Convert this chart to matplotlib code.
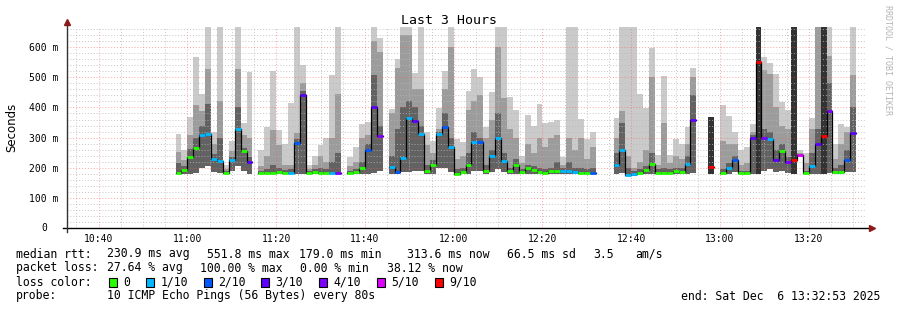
import numpy as np
import matplotlib.pyplot as plt
from matplotlib.patches import Rectangle

# smokeping "Last 3 Hours" - one value per 80 s step, None = no answer at all
median = [182, 193, 236, 264, 308, 312, 230, 222, 183, 226,
          328, 255, 218, None, 181, 181, 183, 185, 183, 183,
          282, 441, 183, 185, 183, 183, 183, 183, None, 183,
          187, 199, 258, 402, 305, None, 202, 186, 231, 364,
          356, 311, 188, 210, 311, 336, 270, 180, 185, 208,
          285, 287, 190, 240, 297, 222, 190, 208, 185, 200,
          193, 185, 183, 188, 190, 190, 190, 185, 182, 182,
          182, None, None, None, 209, 260, 177, 179, 182, 194,
          212, 183, 183, 183, 188, 185, 214, 357, None, None,
          203, None, 181, 198, 226, 181, 181, 297, 551, 299,
          296, 227, 256, 218, 227, 242, 181, 207, 279, 305,
          387, 186, 186, 227, 314]

loss = [0, 0, 0, 0, 1, 1, 1, 1, 0, 1,
        1, 0, 3, None, 0, 0, 0, 0, 0, 1,
        2, 3, 0, 0, 0, 0, 1, 4, None, 0,
        0, 0, 2, 3, 4, None, 1, 2, 1, 1,
        3, 1, 0, 0, 1, 2, 1, 0, 0, 0,
        1, 2, 0, 1, 1, 1, 0, 0, 0, 0,
        0, 0, 0, 0, 0, 1, 1, 1, 0, 0,
        2, None, None, None, 1, 1, 1, 1, 0, 0,
        0, 0, 0, 0, 0, 0, 1, 3, None, None,
        9, None, 0, 1, 2, 0, 0, 3, 9, 4,
        1, 3, 0, 4, 9, 5, 0, 1, 3, 9,
        4, 0, 0, 2, 3]

smoke_top = [311, 258, 368, 568, 445, 666, 318, 666, 210, 290,
             666, 350, 518, None, 258, 336, 521, 325, 280, 415,
             666, 540, 210, 240, 275, 300, 507, 666, None, 235,
             270, 345, 353, 666, 630, None, 395, 560, 666, 666,
             513, 666, 318, 290, 397, 520, 666, 295, 286, 454,
             527, 501, 336, 452, 666, 666, 435, 391, 240, 376,
             339, 410, 347, 353, 358, 235, 666, 666, 361, 295,
             320, None, None, None, 364, 666, 666, 666, 444, 397,
             597, 242, 505, 242, 295, 278, 336, 531, None, None,
             369, None, 408, 372, 319, 258, 270, 345, 666, 567,
             548, 511, 419, 391, 666, 258, 250, 364, 666, 666,
             666, 280, 345, 336, 666]

smoke_mid = [252, 225, 308, 408, 388, 528, 280, 420, 195, 255,
             528, 308, 300, None, 205, 240, 325, 275, 210, 210,
             315, 480, 195, 210, 240, 220, 300, 445, None, 205,
             220, 300, 308, 620, 585, None, 380, 530, 640, 640,
             460, 460, 275, 250, 330, 460, 600, 230, 240, 390,
             420, 440, 300, 360, 600, 430, 330, 300, 215, 280,
             250, 300, 270, 300, 310, 210, 300, 260, 300, 230,
             270, None, None, None, 300, 388, 240, 200, 220, 260,
             500, 210, 350, 215, 240, 230, 280, 500, None, None,
             369, None, 290, 280, 280, 210, 215, 320, 666, 525,
             510, 400, 340, 330, 666, 250, 215, 330, 666, 666,
             570, 230, 280, 320, 507]

smoke_dark = [215, 205, 262, 300, 340, 413, 245, 300, 190, 235,
              403, 265, 235, None, 190, 195, 210, 200, 192, 195,
              295, 455, 188, 195, 200, 195, 220, 250, None, 190,
              195, 220, 280, 507, 340, None, 240, 330, 400, 420,
              400, 340, 210, 225, 320, 380, 300, 195, 200, 250,
              320, 300, 210, 260, 380, 250, 200, 230, 195, 210,
              205, 200, 195, 200, 220, 200, 220, 200, 200, 195,
              200, None, None, None, 250, 350, 200, 190, 195, 205,
              250, 195, 200, 195, 200, 200, 240, 440, None, None,
              369, None, 195, 215, 240, 190, 190, 310, 666, 330,
              320, 260, 280, 235, 666, 245, 190, 250, 330, 666,
              480, 200, 210, 260, 400]

smoke_low = [178, 180, 180, 182, 200, 205, 185, 182, 178, 190,
             205, 190, 180, None, 178, 178, 178, 178, 178, 178,
             180, 180, 178, 178, 178, 178, 178, 178, None, 178,
             178, 178, 180, 182, 190, None, 180, 178, 185, 185,
             190, 190, 178, 178, 200, 200, 185, 178, 178, 180,
             190, 190, 178, 185, 195, 185, 178, 178, 178, 178,
             178, 178, 178, 178, 178, 178, 178, 178, 178, 178,
             178, None, None, None, 180, 182, 172, 172, 178, 178,
             180, 178, 178, 178, 178, 178, 180, 182, None, None,
             178, None, 178, 178, 185, 178, 178, 180, 180, 190,
             195, 185, 190, 182, 180, 235, 178, 180, 180, 180,
             182, 178, 178, 185, 185]

loss_labels = ['0', '1/10', '2/10', '3/10', '4/10', '5/10', '9/10']
loss_steps = [0, 1, 2, 3, 4, 5, 9]
loss_colors = ['#26ff00', '#00b8ff', '#0059ff', '#5e00ff', '#7e00ff', '#dd00ff', '#ff0000']

first_step = '10:57:20'
step_s = 80
view_start = '10:32:53'
view_end = '13:32:53'


def minutes(hms):
    parts = [int(v) for v in hms.split(':')] + [0]
    return parts[0] * 60 + parts[1] + parts[2] / 60.0


def arr(v):
    return np.array([np.nan if x is None else x for x in v], dtype=float)


med = arr(median)
top = arr(smoke_top)
mid = arr(smoke_mid)
dark = arr(smoke_dark)
low = arr(smoke_low)
ls = arr(loss)

step = step_s / 60.0
t = minutes(first_step) + np.arange(len(med)) * step

W, H = 897, 310
fig = plt.figure(figsize=(W / 100, H / 100), dpi=100)
fig.patch.set_facecolor('white')
ax = fig.add_axes([67 / W, (H - 228) / H, 799 / W, 201 / H])
ax.set_xlim(minutes(view_start), minutes(view_end))
ax.set_ylim(0, 667)
for s in ax.spines.values():
    s.set_visible(False)

# smoke
ok = ~np.isnan(med)
ax.bar(t[ok], (top - low)[ok], bottom=low[ok], width=step, align='edge',
       color='#cacaca', linewidth=0, zorder=1)
ax.bar(t[ok], (mid - low)[ok], bottom=low[ok], width=step, align='edge',
       color='#9c9c9c', linewidth=0, zorder=1)
dcol = ['#333333' if l == 9 else '#626262' for l in ls[ok]]
ax.bar(t[ok], (dark - low)[ok], bottom=low[ok], width=step, align='edge',
       color=dcol, linewidth=0, zorder=1)

# grid (rrdtool draws it over the graph)
mjx = np.arange(minutes('10:40'), minutes('13:32'), 20)
mnx = np.arange(minutes('10:35'), minutes('13:33'), 5)
for x in mnx:
    if not np.any(np.isclose(x, mjx)):
        ax.axvline(x, color=(0.72, 0.72, 0.72, 0.8), lw=0.7, ls=(0, (1, 2)), zorder=2)
for x in mjx:
    ax.axvline(x, color=(1, 0.35, 0.35, 0.55), lw=0.7, ls=(0, (1, 2)), zorder=2)
for y in np.arange(20, 667, 20):
    if y % 100:
        ax.axhline(y, color=(0.72, 0.72, 0.72, 0.8), lw=0.7, ls=(0, (1, 2)), zorder=2)
for y in np.arange(100, 667, 100):
    ax.axhline(y, color=(1, 0.35, 0.35, 0.55), lw=0.7, ls=(0, (1, 2)), zorder=2)

# median line + loss coloured marks
xs = np.append(t, t[-1] + step)
ys = np.append(med, med[-1])
ax.plot(xs, ys, drawstyle='steps-post', color='black', lw=0.9, zorder=3)
mcol = [loss_colors[loss_steps.index(int(l))] for l in ls[ok]]
ax.hlines(med[ok], t[ok], t[ok] + step, colors=mcol, lw=2.0, zorder=4)

# axes with arrows
ax.plot([-4 / 799, 1 + 5 / 799], [0, 0], color='black', lw=1.0,
        transform=ax.transAxes, clip_on=False, zorder=5)
ax.plot([0, 0], [-4 / 201, 1 + 4 / 201], color='#333333', lw=1.0,
        transform=ax.transAxes, clip_on=False, zorder=5)
ax.plot([1 + 6 / 799], [0], marker='>', ms=4.5, color='#8b1a1a',
        transform=ax.transAxes, clip_on=False, zorder=6)
ax.plot([0], [1 + 5 / 201], marker='^', ms=4.5, color='#8b1a1a',
        transform=ax.transAxes, clip_on=False, zorder=6)

mono = 'DejaVu Sans Mono'
ax.set_xticks(mjx)
ax.set_xticklabels(['10:40', '11:00', '11:20', '11:40', '12:00', '12:20',
                    '12:40', '13:00', '13:20'], family=mono, fontsize=7)
ax.set_yticks(np.arange(100, 601, 100))
ax.set_yticklabels(['100 m', '200 m', '300 m', '400 m', '500 m', '600 m'],
                   family=mono, fontsize=7)
ax.tick_params(axis='both', length=0)
ax.tick_params(axis='x', pad=4)
ax.tick_params(axis='y', pad=6)
ax.text(-19.5 / 799, 0, '0', transform=ax.transAxes, ha='right', va='center',
        family=mono, fontsize=7)

fig.text(12 / W, 1 - 127 / H, 'Seconds', rotation=90, ha='center', va='center',
         fontsize=8.5, family='DejaVu Sans')
fig.text(449 / W, 1 - 20 / H, 'Last 3 Hours', ha='center', va='center',
         fontsize=9.5, family=mono)
fig.text(888 / W, 1 - 5 / H, 'RRDTOOL / TOBI OETIKER', rotation=270, ha='center',
         va='top', fontsize=6, family=mono, color='#b4b4b4')


def ftext(x, y, s, **kw):
    fig.text(x / W, 1 - y / H, s, va='center', family=mono, fontsize=8.3, **kw)


ftext(16, 254, 'median rtt:')
for x, s in [(107, '230.9 ms avg'), (207, '551.8 ms max'), (299, '179.0 ms min'),
             (407, '313.6 ms now'), (507, '66.5 ms sd'), (593, '3.5'), (635, 'am/s')]:
    ftext(x, 254, s)
ftext(16, 268, 'packet loss:')
for x, s in [(107, '27.64 % avg'), (200, '100.00 % max'), (300, '0.00 % min'),
             (387, '38.12 % now')]:
    ftext(x, 268, s)
ftext(16, 282, 'loss color:')
box_x = [109, 146, 204, 261, 319, 377, 435]
for bx, lab, c in zip(box_x, loss_labels, loss_colors):
    fig.patches.append(Rectangle((bx / W, 1 - 286.5 / H), 7.5 / W, 9 / H,
                                 transform=fig.transFigure, facecolor=c,
                                 edgecolor='black', lw=0.8))
    ftext(bx + 14.5, 282, lab)
ftext(16, 296, 'probe:')
ftext(107, 296, '10 ICMP Echo Pings (56 Bytes) every 80s')
ftext(880, 296, 'end: Sat Dec  6 13:32:53 2025', ha='right')

fig.savefig('out.png', dpi=100, facecolor='white')
